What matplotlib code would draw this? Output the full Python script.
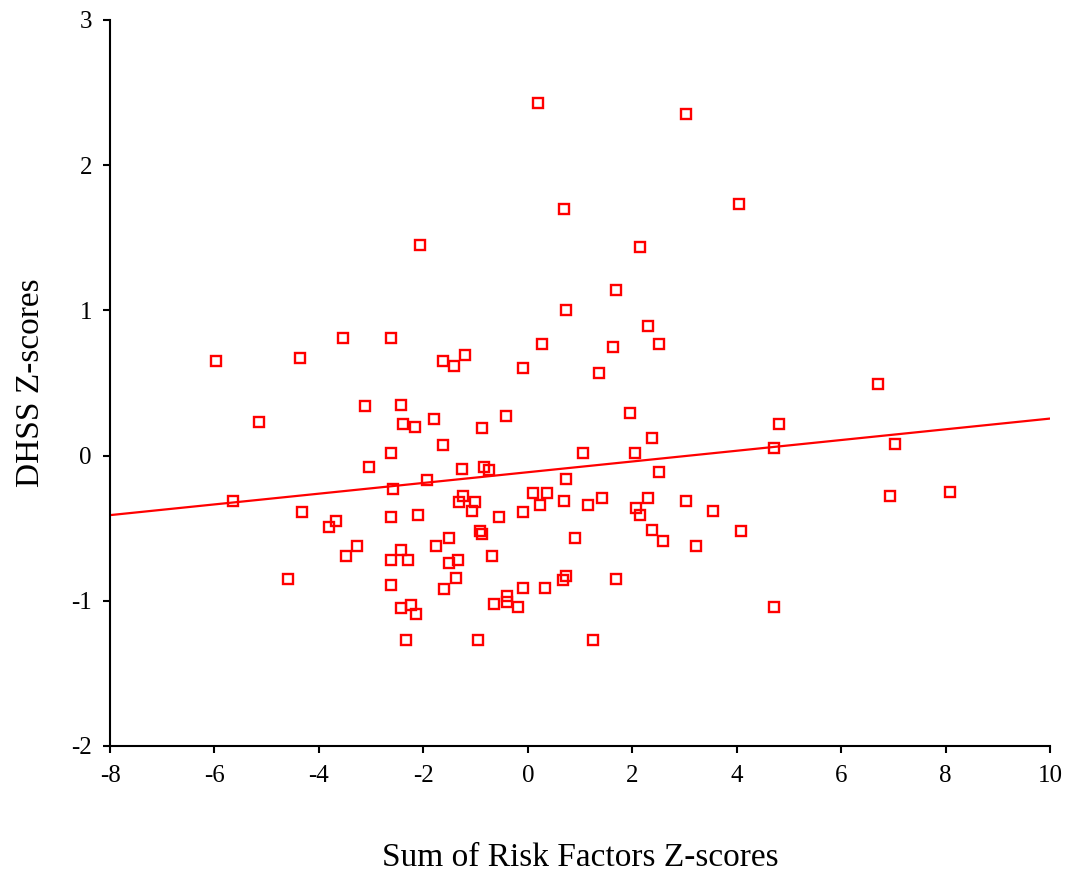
import matplotlib
matplotlib.use("Agg")
import matplotlib.pyplot as plt
import numpy as np

# Sum of Risk Factors Z-scores (x) and DHSS Z-scores (y)
risk_z = [0.20, 3.03, 0.70, 4.04, -2.06, 2.15, 1.69, 0.73, 2.30, 0.27,
          2.51, 1.64, -5.97, -4.36, -3.54, -2.62, -1.62, -1.20, -1.41, -0.09,
          1.36, 6.71, -3.12, -2.43, -1.80, -2.39, -2.16, -5.15, -0.42, 1.95,
          4.81, -0.88, 2.38, -1.62, 1.06, 2.05, 7.03, 4.71, -2.62, -3.04,
          -1.26, -0.84, -0.74, 2.51, 0.73, -1.93, -5.64, -2.58, -1.24, -1.32,
          -1.01, 0.10, 0.37, 0.23, -0.09, 0.70, 1.15, 1.42, 2.30, 2.07,
          2.15, 3.03, 3.55, 6.94, 8.09, -4.32, -2.10, -1.07, -0.55, -2.62,
          -3.67, -3.81, -0.91, -0.87, 2.38, 4.08, -1.76, -1.51, -3.27, 0.90,
          2.59, 3.22, -3.48, -2.43, -2.62, -2.29, -1.51, -1.34, -0.68, -1.37,
          -4.59, 0.73, 0.67, 1.69, -2.62, -1.60, -0.09, 0.33, -0.39, -0.39,
          -0.64, -0.18, -2.24, -2.43, -2.14, 4.71, -2.33, -0.95, 1.25]
dhss_z = [2.43, 2.35, 1.70, 1.73, 1.45, 1.44, 1.14, 1.00, 0.89, 0.77,
          0.77, 0.75, 0.65, 0.67, 0.81, 0.81, 0.65, 0.69, 0.62, 0.60,
          0.57, 0.49, 0.34, 0.35, 0.25, 0.22, 0.20, 0.23, 0.27, 0.29,
          0.22, 0.19, 0.12, 0.07, 0.02, 0.02, 0.08, 0.055, 0.02, -0.08,
          -0.09, -0.08, -0.10, -0.11, -0.16, -0.17, -0.31, -0.23, -0.28, -0.32,
          -0.32, -0.26, -0.26, -0.34, -0.39, -0.31, -0.34, -0.29, -0.29, -0.36,
          -0.41, -0.31, -0.38, -0.28, -0.25, -0.39, -0.41, -0.38, -0.42, -0.42,
          -0.45, -0.49, -0.52, -0.54, -0.51, -0.52, -0.62, -0.57, -0.62, -0.57,
          -0.59, -0.62, -0.69, -0.65, -0.72, -0.72, -0.74, -0.72, -0.69, -0.84,
          -0.85, -0.83, -0.86, -0.85, -0.89, -0.92, -0.91, -0.91, -0.97, -1.01,
          -1.02, -1.04, -1.03, -1.05, -1.09, -1.04, -1.27, -1.27, -1.27]

# Fitted regression line endpoints
fit_x = [-8, 10]
fit_y = [-0.41, 0.255]

x_ticks = [-8, -6, -4, -2, 0, 2, 4, 6, 8, 10]
y_ticks = [-2, -1, 0, 1, 2, 3]

plt.rcParams['font.family'] = ['Liberation Serif', 'DejaVu Serif']

fig = plt.figure(figsize=(10.68, 8.75), dpi=100)
ax = fig.add_axes([110/1068, 1 - 746/875, 940/1068, 726/875])

ax.plot(risk_z, dhss_z, linestyle='none', marker='s', markersize=7.8,
        markerfacecolor='none', markeredgecolor='#ff0000', markeredgewidth=1.7,
        clip_on=False)
ax.plot(fit_x, fit_y, color='#ff0000', linewidth=1.6)

ax.set_xlim(-8, 10)
ax.set_ylim(-2, 3)
ax.set_xticks(x_ticks)
ax.set_yticks(y_ticks)
ax.set_xticklabels([str(t) for t in x_ticks])
ax.set_yticklabels([str(t) for t in y_ticks])

for s in ['top', 'right']:
    ax.spines[s].set_visible(False)
for s in ['left', 'bottom']:
    ax.spines[s].set_linewidth(1.5)

ax.tick_params(axis='both', direction='out', length=5, width=1.5,
               labelsize=18, pad=8, colors='black')
ax.tick_params(axis='x', pad=9)

ax.set_xlabel('Sum of Risk Factors Z-scores', fontsize=24, labelpad=40)
ax.set_ylabel('DHSS Z-scores', fontsize=24, labelpad=18)

fig.savefig('out.png', dpi=100)
